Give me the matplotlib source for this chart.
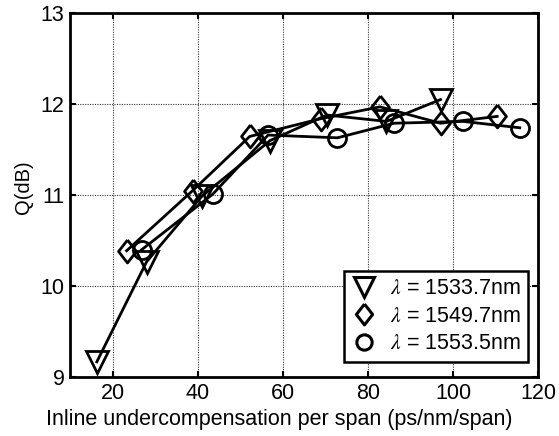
import matplotlib
matplotlib.use("Agg")
import matplotlib.pyplot as plt
from matplotlib.lines import Line2D

plt.rcParams['font.family'] = ['Liberation Sans', 'DejaVu Sans']
plt.rcParams['mathtext.fontset'] = 'stix'

# Q factor vs inline undercompensation, one curve per channel wavelength
x_1533 = [16.3, 28.0, 41.0, 57.0, 70.3, 84.3, 97.0]
q_1533 = [9.17, 10.27, 10.99, 11.60, 11.88, 11.81, 12.05]

x_1549 = [23.3, 38.8, 52.2, 68.9, 82.8, 97.0, 110.3]
q_1549 = [10.39, 11.05, 11.645, 11.84, 11.97, 11.79, 11.865]

x_1553 = [26.8, 43.5, 56.5, 72.8, 86.1, 102.3, 115.6]
q_1553 = [10.40, 11.01, 11.66, 11.63, 11.79, 11.81, 11.74]

labels = [r'$\lambda$ = 1533.7nm', r'$\lambda$ = 1549.7nm', r'$\lambda$ = 1553.5nm']

xticks = [20, 40, 60, 80, 100, 120]
yticks = [9, 10, 11, 12, 13]

# slightly tall diamond like MATLAB's
diamond = [(0, 1), (0.78, 0), (0, -1), (-0.78, 0), (0, 1)]

fig = plt.figure(figsize=(5.59, 4.36), dpi=100)
ax = fig.add_axes([0.1252, 0.1346, 0.8381, 0.8355])

style = dict(color='black', lw=2.0, mfc='none', mec='black', mew=2.0)
ax.plot(x_1533, q_1533, marker='v', ms=16, **style)
ax.plot(x_1549, q_1549, marker=diamond, ms=16.5, **style)
ax.plot(x_1553, q_1553, marker='o', ms=13, **style)

ax.set_xlim(10, 120)
ax.set_ylim(9, 13)
ax.set_xticks(xticks)
ax.set_yticks(yticks)
ax.grid(True, color='#333333', linestyle=(0, (1, 1.2)), linewidth=0.8)
ax.tick_params(direction='in', length=4, width=1.5, top=True, right=True,
               labelsize=15.5, pad=4)
for s in ax.spines.values():
    s.set_linewidth(2.0)

ax.set_xlabel('Inline undercompensation per span (ps/nm/span)', fontsize=15.5)
ax.xaxis.set_label_coords(0.446, -0.088)
ax.set_ylabel('Q(dB)', fontsize=14.5)
ax.yaxis.set_label_coords(-0.078, 0.522)

handles = [
    Line2D([], [], linestyle='none', marker='v', ms=14, mfc='none', mec='black', mew=2.2),
    Line2D([], [], linestyle='none', marker=diamond, ms=15, mfc='none', mec='black', mew=2.2),
    Line2D([], [], linestyle='none', marker='o', ms=11, mfc='none', mec='black', mew=2.2),
]
leg = ax.legend(handles, labels, loc='lower right', bbox_to_anchor=(0.978, 0.043),
                borderaxespad=0, fontsize=15.5, fancybox=False, framealpha=1,
                edgecolor='black', handlelength=1.2, handletextpad=0.6,
                labelspacing=0.3, borderpad=0.35)
leg.get_frame().set_linewidth(1.8)

fig.savefig('out.png', dpi=100)
